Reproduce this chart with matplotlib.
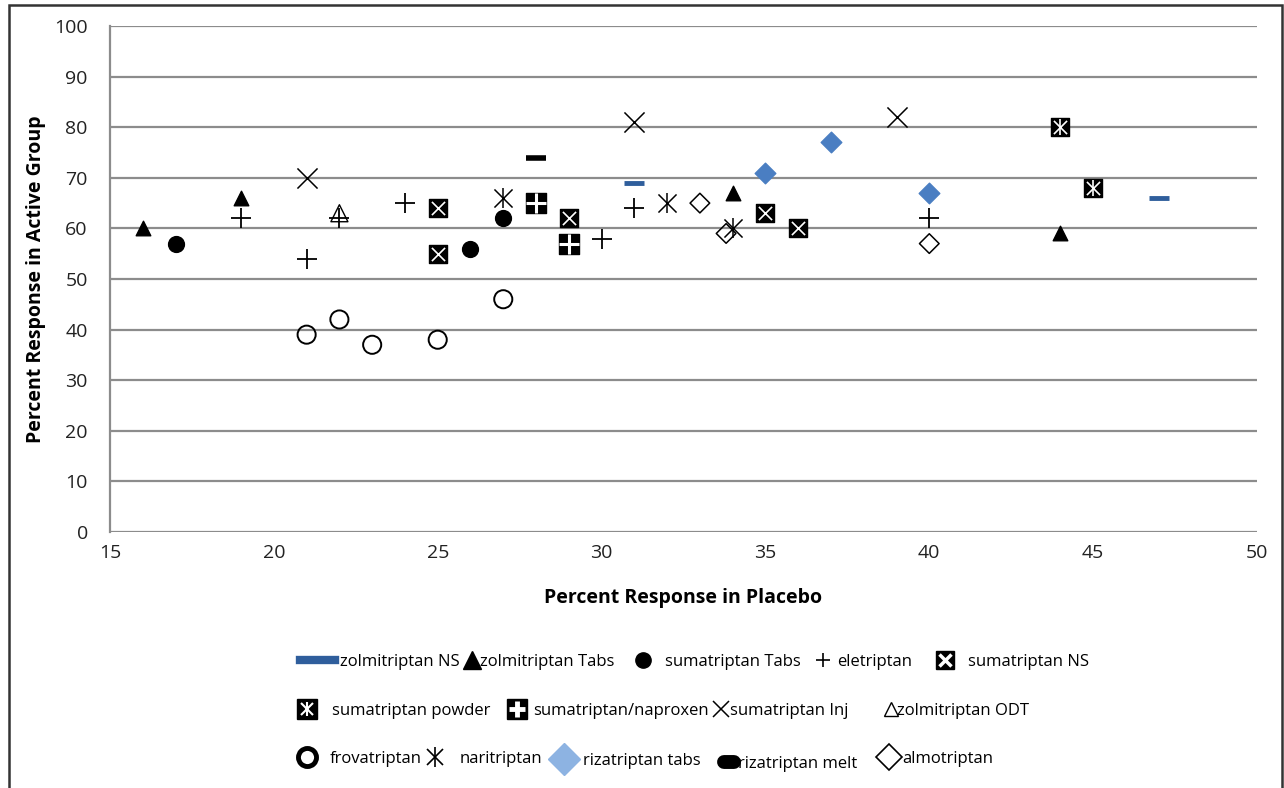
import matplotlib
matplotlib.use("Agg")
import matplotlib.pyplot as plt
from matplotlib.lines import Line2D
from matplotlib.patches import Rectangle
from matplotlib.legend_handler import HandlerTuple

plt.rcParams['font.family'] = ['Open Sans', 'DejaVu Sans']

# ---- data ----
zolm_ns_x = [31, 47]
zolm_ns_y = [69, 66]
zolm_tabs_x = [16, 19, 34, 44]
zolm_tabs_y = [60, 66, 67, 59]
suma_tabs_x = [17, 26, 27]
suma_tabs_y = [57, 56, 62]
ele_x = [19, 21, 22, 24, 30, 31, 40]
ele_y = [62, 54, 62, 65, 58, 64, 62]
suma_ns_x = [25, 25, 29, 35, 36]
suma_ns_y = [64, 55, 62, 63, 60]
suma_powder_x = [44, 45]
suma_powder_y = [80, 68]
suma_nap_x = [28, 29]
suma_nap_y = [65, 57]
suma_inj_x = [21, 31, 39]
suma_inj_y = [70, 81, 82]
zolm_odt_x = [22]
zolm_odt_y = [63]
frova_x = [21, 22, 23, 25, 27]
frova_y = [39, 42, 37, 38, 46]
nari_x = [27, 32, 34]
nari_y = [66, 65, 60]
riza_tabs_x = [35, 37, 40]
riza_tabs_y = [71, 77, 67]
riza_melt_x = [28]
riza_melt_y = [74]
almo_x = [33, 33.8, 40]
almo_y = [65, 59, 57]

x_ticks = [15, 20, 25, 30, 35, 40, 45, 50]
y_ticks = [0, 10, 20, 30, 40, 50, 60, 70, 80, 90, 100]

W, H = 1284, 788
fig = plt.figure(figsize=(W / 100, H / 100), dpi=100)
ax = fig.add_axes([110 / W, 1 - 532 / H, (1257 - 110) / W, (532 - 26) / H])

# outer frame
fig.patches.append(Rectangle((9 / W, -0.05), (1282 - 9) / W, 1.05 - 5 / H,
                             transform=fig.transFigure, fill=False,
                             edgecolor='#333333', linewidth=1.8))

blue_dark = '#2F5E9C'
blue_tab = '#4A7EC2'
blue_leg = '#8DB3E2'

# ---- plotted series ----
ax.scatter(zolm_ns_x, zolm_ns_y, marker='_', s=220, c=blue_dark, linewidths=3.5, zorder=3)
ax.scatter(zolm_tabs_x, zolm_tabs_y, marker='^', s=110, c='black', zorder=3)
ax.scatter(suma_tabs_x, suma_tabs_y, marker='o', s=130, c='black', zorder=3)
ax.scatter(zolm_odt_x, zolm_odt_y, marker='^', s=150, facecolors='none',
           edgecolors='black', linewidths=1.0, zorder=3)
ax.scatter(ele_x, ele_y, marker='+', s=220, c='black', linewidths=1.3, zorder=4)
# sumatriptan NS: black box with white X
ax.scatter(suma_ns_x, suma_ns_y, marker='s', s=180, c='black', zorder=3)
ax.scatter(suma_ns_x, suma_ns_y, marker='x', s=90, c='white', linewidths=1.2, zorder=4)
# sumatriptan powder: black box with white asterisk
ax.scatter(suma_powder_x, suma_powder_y, marker='s', s=180, c='black', zorder=3)
ax.scatter(suma_powder_x, suma_powder_y, marker='x', s=90, c='white', linewidths=1.2, zorder=4)
ax.scatter(suma_powder_x, suma_powder_y, marker='|', s=120, c='white', linewidths=1.2, zorder=4)
# sumatriptan/naproxen: black box with white plus
ax.scatter(suma_nap_x, suma_nap_y, marker='s', s=190, c='black', zorder=3)
ax.scatter(suma_nap_x, suma_nap_y, marker='+', s=210, c='white', linewidths=2.2, zorder=4)
ax.scatter(suma_inj_x, suma_inj_y, marker='x', s=210, c='black', linewidths=1.1, zorder=3)
ax.scatter(frova_x, frova_y, marker='o', s=170, facecolors='none',
           edgecolors='black', linewidths=1.4, zorder=3)
ax.scatter(nari_x, nari_y, marker='x', s=170, c='black', linewidths=1.1, zorder=3)
ax.scatter(nari_x, nari_y, marker='|', s=200, c='black', linewidths=1.1, zorder=3)
ax.scatter(riza_tabs_x, riza_tabs_y, marker='D', s=110, c=blue_tab, zorder=3)
ax.scatter(riza_melt_x, riza_melt_y, marker='_', s=190, c='black', linewidths=4, zorder=3)
ax.scatter(almo_x, almo_y, marker='D', s=100, facecolors='none',
           edgecolors='black', linewidths=1.1, zorder=3)

ax.set_xlim(15, 50)
ax.set_ylim(0, 100)
ax.set_xticks(x_ticks)
ax.set_yticks(y_ticks)
ax.tick_params(axis='both', length=0, labelsize=14, colors='#222222')
ax.tick_params(axis='x', pad=9)
ax.tick_params(axis='y', pad=16)
ax.grid(axis='y', color='#8c8c8c', linewidth=1.6)
ax.set_axisbelow(True)
for s in ['top', 'right', 'bottom']:
    ax.spines[s].set_visible(False)
ax.spines['left'].set_color('#8c8c8c')
ax.spines['left'].set_linewidth(1.6)

ax.set_xlabel('Percent Response in Placebo', fontsize=14, fontweight='bold', labelpad=18)
ax.set_ylabel('Percent Response in Active Group', fontsize=14, fontweight='bold', labelpad=6)

# ---- legend: each entry (handle, label, handle-left px, handle width px, text-left px, row y px) ----
def box(inner_list, ms=14):
    return tuple([Line2D([], [], ls='', marker='s', ms=ms, color='black')] + inner_list)

entries = [
    (Line2D([], [], color=blue_dark, lw=6), 'zolmitriptan NS', 300, 35, 340, 662),
    (Line2D([], [], ls='', marker='^', ms=13, color='black'), 'zolmitriptan Tabs', 464, 16, 480, 662),
    (Line2D([], [], ls='', marker='o', ms=11, color='black'), 'sumatriptan Tabs', 635, 16, 665, 662),
    (Line2D([], [], ls='', marker='+', ms=10, color='black', mew=1.2), 'eletriptan', 815, 16, 837, 662),
    (box([Line2D([], [], ls='', marker='x', ms=8, color='white', mew=2.5)], ms=13), 'sumatriptan NS', 937, 16, 968, 662),

    (box([Line2D([], [], ls='', marker='x', ms=8, color='white', mew=1.5),
          Line2D([], [], ls='', marker='|', ms=10, color='white', mew=1.5)]),
     'sumatriptan powder', 298, 18, 332, 711),
    (box([Line2D([], [], ls='', marker='+', ms=11, color='white', mew=3.5)]),
     'sumatriptan/naproxen', 508, 18, 533, 711),
    (Line2D([], [], ls='', marker='x', ms=12, color='black', mew=1.1), 'sumatriptan Inj', 713, 16, 730, 711),
    (Line2D([], [], ls='', marker='^', ms=10, mfc='none', color='black', mew=1.0), 'zolmitriptan ODT', 885, 12, 897, 711),

    (Line2D([], [], ls='', marker='o', ms=13, mfc='none', color='black', mew=3.5), 'frovatriptan', 298, 18, 330, 759),
    ((Line2D([], [], ls='', marker='x', ms=11, color='black', mew=1.2),
      Line2D([], [], ls='', marker='|', ms=14, color='black', mew=1.2)), 'naritriptan', 425, 20, 460, 759),
    (Line2D([], [], ls='', marker='D', ms=16, color=blue_leg), 'rizatriptan tabs', 553, 22, 583, 761),
    (Line2D([], [], color='black', lw=10, solid_capstyle='round'), 'rizatriptan melt', 724, 10, 738, 764),
    (Line2D([], [], ls='', marker='D', ms=13, mfc='none', color='black', mew=1.2), 'almotriptan', 881, 16, 902, 759),
]

FS = 12
em_px = FS * 100 / 72
for h, lab, hx, hw, tx, yy in entries:
    fig.legend([h], [lab], loc='center left', bbox_to_anchor=(hx / W, 1 - yy / H),
               frameon=False, fontsize=FS, borderpad=0, borderaxespad=0,
               handlelength=hw / em_px, handletextpad=max(tx - hx - hw, 0) / em_px,
               handler_map={tuple: HandlerTuple(ndivide=1, pad=0)})

fig.savefig('out.png', dpi=100)
